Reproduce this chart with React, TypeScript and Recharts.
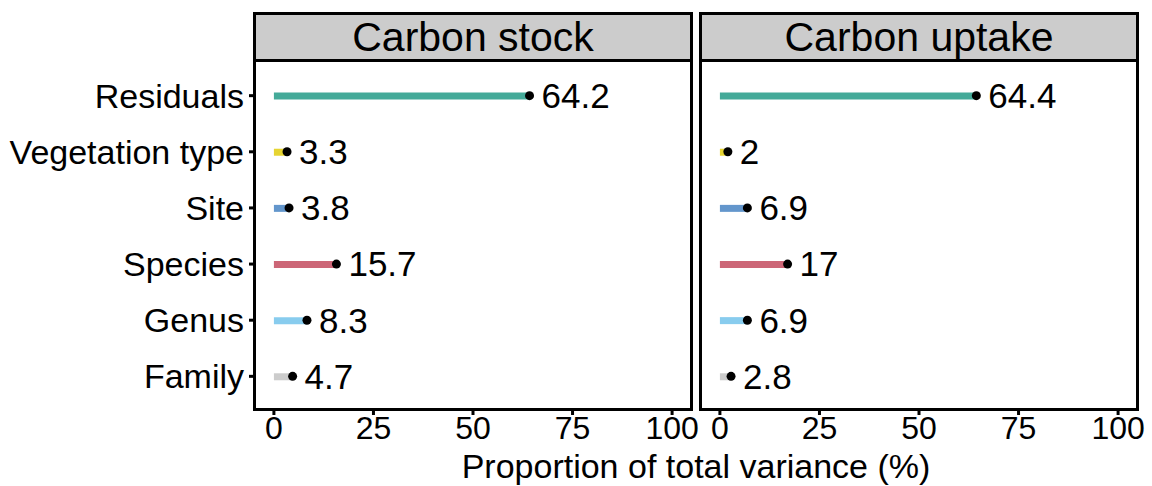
import React from "react";
import { Bar, Cell, ComposedChart, LabelList, Line, XAxis, YAxis } from "recharts";

const components = ["Residuals", "Vegetation type", "Site", "Species", "Genus", "Family"];
const stockValues = [64.2, 3.3, 3.8, 15.7, 8.3, 4.7];
const uptakeValues = [64.4, 2, 6.9, 17, 6.9, 2.8];
const componentColors = ["#44AA99", "#E6D432", "#6396CC", "#CC6677", "#88CCEE", "#CCCCCC"];
const xTicks = [0, 25, 50, 75, 100];

const FONT = '"Liberation Sans", Arial, sans-serif';
const PLOT_TOP = 62;
const PLOT_BOTTOM = 410;
const PLOT_W = 438;

function toRows(values: number[]) {
  return components.map((name, i) => ({ name, value: values[i] }));
}

type PanelProps = {
  title: string;
  values: number[];
  left: number;
  axisWidth: number;
  rightMargin: number;
};

function Panel({ title, values, left, axisWidth, rightMargin }: PanelProps) {
  const width = axisWidth + PLOT_W + rightMargin;
  const plotLeft = left + axisWidth;
  return (
    <>
      <div style={{ position: "absolute", left, top: 0 }}>
        <ComposedChart
          width={width}
          height={486}
          layout="vertical"
          data={toRows(values)}
          margin={{ top: PLOT_TOP, right: rightMargin, bottom: 486 - PLOT_BOTTOM - 40, left: 0 }}
        >
          <XAxis
            type="number"
            domain={[-5, 105]}
            ticks={xTicks}
            axisLine={false}
            tickLine={{ stroke: "#000", strokeWidth: 3 }}
            tickSize={5}
            tick={{ fill: "#000", fontSize: 32, fontFamily: FONT }}
            tickMargin={1}
            height={40}
            interval={0}
          />
          <YAxis
            type="category"
            dataKey="name"
            width={axisWidth}
            hide={axisWidth === 0}
            axisLine={false}
            padding={{ top: 5.6, bottom: 5.6 }}
            tickLine={{ stroke: "#000", strokeWidth: 3 }}
            tickSize={5}
            tickMargin={5}
            tick={{ fill: "#000", fontSize: 34, fontFamily: FONT }}
            interval={0}
          />
          <Bar dataKey="value" barSize={7} isAnimationActive={false}>
            {components.map((c, i) => (
              <Cell key={c} fill={componentColors[i]} />
            ))}
          </Bar>
          <Line
            dataKey="value"
            stroke="none"
            dot={{ r: 4.5, fill: "#000", stroke: "none" }}
            activeDot={false}
            isAnimationActive={false}
          >
            <LabelList
              dataKey="value"
              position="right"
              offset={12}
              fill="#000"
              fontSize={35}
              fontFamily={FONT}
            />
          </Line>
        </ComposedChart>
      </div>
      {/* facet strip */}
      <div
        style={{
          position: "absolute",
          left: plotLeft - 1,
          top: 12,
          width: PLOT_W + 2,
          height: PLOT_TOP - 12,
          boxSizing: "border-box",
          border: "3px solid #000",
          background: "#CCCCCC",
          fontFamily: FONT,
          fontSize: 41,
          lineHeight: `${PLOT_TOP - 18}px`,
          textAlign: "center",
          color: "#000",
        }}
      >
        {title}
      </div>
      {/* panel border */}
      <div
        style={{
          position: "absolute",
          left: plotLeft - 1,
          top: PLOT_TOP - 3,
          width: PLOT_W + 2,
          height: PLOT_BOTTOM - PLOT_TOP + 4,
          boxSizing: "border-box",
          border: "3px solid #000",
          pointerEvents: "none",
        }}
      />
    </>
  );
}

export default function App() {
  return (
    <div style={{ position: "absolute", left: 0, top: 0, width: 1152, height: 486, background: "#fff" }}>
      <Panel title="Carbon stock" values={stockValues} left={0} axisWidth={254} rightMargin={8} />
      <Panel title="Carbon uptake" values={uptakeValues} left={700} axisWidth={0} rightMargin={14} />
      <div
        style={{
          position: "absolute",
          left: 254,
          width: 884,
          top: 447,
          textAlign: "center",
          fontFamily: FONT,
          fontSize: 34,
          lineHeight: "38px",
          color: "#000",
        }}
      >
        Proportion of total variance (%)
      </div>
    </div>
  );
}
